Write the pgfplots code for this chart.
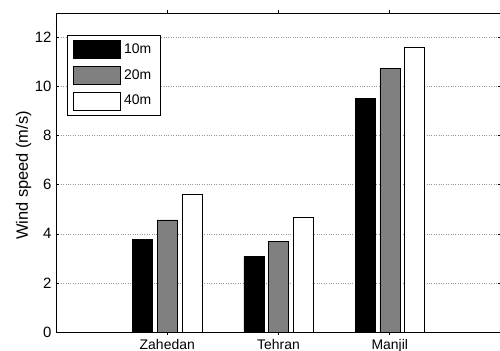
\documentclass[border=0pt]{standalone}
\usepackage{pgfplots}
\pgfplotsset{compat=1.18}
\usepackage{fontspec}
\setmainfont{Liberation Sans}
\begin{document}
\begin{tikzpicture}
\begin{axis}[
  name=ax,
  scale only axis,
  width=445bp, height=319bp,
  xmin=0, xmax=4, ymin=0, ymax=13,
  xtick={1,2,3},
  xticklabels={Zahedan,Tehran,Manjil},
  ytick={0,2,4,6,8,10,12},
  tick align=inside,
  xtick pos=both, ytick pos=both,
  major tick length=3bp,
  tick style={black, line width=0.6pt},
  ymajorgrids,
  grid style={dotted, gray!80, line width=0.6pt},
  axis line style={black, line width=0.8pt},
  /pgf/number format/assume math mode=true,
  yticklabel style={font=\fontsize{15}{17}\selectfont, xshift=-1bp},
  xticklabel style={font=\fontsize{14}{16}\selectfont, yshift=-0.5bp},
  ylabel={Wind speed (m/s)},
  every axis y label/.style={at={(ticklabel cs:0.5)}, rotate=90, anchor=near ticklabel,
     font=\fontsize{16.5}{19}\selectfont, inner sep=0pt, xshift=-3bp},
  ybar, bar width=20bp,
  legend style={at={(0.025,0.931)}, anchor=north west, draw=black, line width=0.6pt,
    font=\fontsize{14}{16}\selectfont, row sep=7bp, inner xsep=6bp, inner ysep=5bp,
    nodes={inner xsep=3bp}},
  legend cell align=left,
  legend image code/.code={\draw[#1, line width=0.6pt] (0bp,-9bp) rectangle (47bp,9bp);},
]
\addplot[fill=black, draw=black, bar shift=-24.75bp] coordinates {(1,3.77) (2,3.07) (3,9.53)};
\addplot[fill=black!50, draw=black, bar shift=0bp] coordinates {(1,4.57) (2,3.70) (3,10.75)};
\addplot[fill=white, draw=black, bar shift=24.75bp] coordinates {(1,5.62) (2,4.67) (3,11.62)};
\legend{10m,20m,40m}
\end{axis}
\pgfresetboundingbox
\path ([xshift=-56bp,yshift=-19bp]ax.south west) rectangle ([xshift=-1bp,yshift=13bp]ax.north east);
\end{tikzpicture}
\end{document}
